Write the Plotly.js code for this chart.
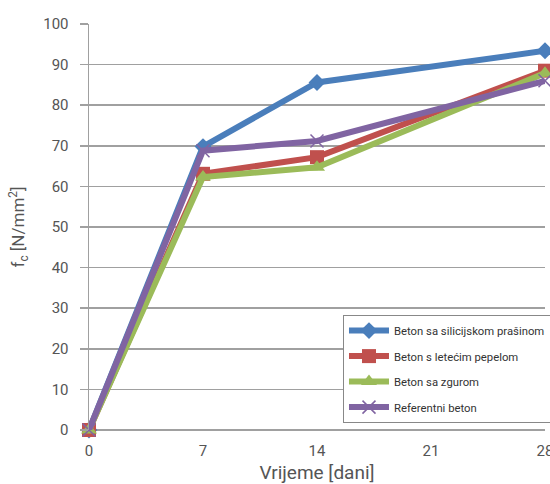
<!DOCTYPE html>
<html><head><meta charset="utf-8">
<script src="https://cdn.plot.ly/plotly-3.0.1.min.js"></script>
<style>html,body{margin:0;padding:0;background:#fff}#c{width:550px;height:484px}</style>
</head><body><div id="c"></div>
<script>
const days = [0, 7, 14, 28];
const seriesNames = ["Beton sa silicijskom prašinom", "Beton s letećim pepelom", "Beton sa zgurom", "Referentni beton"];
const silica = [0, 69.8, 85.6, 93.4];
const flyAsh = [0, 63.1, 67.2, 88.5];
const slag = [0, 62.3, 64.7, 87.9];
const reference = [0, 68.8, 71.2, 86.0];
const xTicks = [0, 7, 14, 21, 28];
const yTicks = [0, 10, 20, 30, 40, 50, 60, 70, 80, 90, 100];

const colors = ["#4A7EBB", "#C0504D", "#9BBB59", "#8064A2"];
const symbols = ["diamond", "square", "triangle-up", "x-thin"];
const sizes = [13, 14, 14, 13];
const data = [silica, flyAsh, slag, reference].map((ys, i) => ({
  x: days, y: ys, name: seriesNames[i], type: "scatter", mode: "lines+markers",
  legendgroup: "g" + i, cliponaxis: false,
  line: {color: colors[i], width: 6},
  marker: {symbol: symbols[i], size: sizes[i], color: colors[i],
           line: {color: colors[i], width: i === 3 ? 1.5 : 0}}
}));

const layout = {
  width: 550, height: 484,
  margin: {l: 89, r: 5, t: 24, b: 54, autoexpand: false},
  paper_bgcolor: "#fff", plot_bgcolor: "#fff",
  font: {family: "Roboto, 'Open Sans', sans-serif", color: "#444"},
  showlegend: true,
  legend: {x: 0.557, y: 0.283, xanchor: "left", yanchor: "top",
           bordercolor: "#888", borderwidth: 1, bgcolor: "#fff",
           font: {size: 11.3, color: "#333"}, tracegroupgap: 6.5, itemwidth: 40},
  xaxis: {range: [0, 28], tickvals: xTicks, ticktext: xTicks.map(String),
          showgrid: false, zeroline: false, showline: false, ticks: "",
          ticklabelstandoff: 10,
          tickfont: {size: 15, color: "#555"}, ticklabeloverflow: "allow",
          title: {text: "Vrijeme [dani]", font: {size: 19, color: "#555"}, standoff: 8}},
  yaxis: {range: [0, 100], tickvals: yTicks, showgrid: true, gridcolor: "#A0A0A0", gridwidth: 1.5,
          zeroline: true, zerolinecolor: "#A0A0A0", zerolinewidth: 1.5,
          showline: true, linecolor: "#A0A0A0", linewidth: 1.5,
          ticks: "outside", ticklen: 8, tickcolor: "#A0A0A0", tickwidth: 1.5,
          ticklabelstandoff: 8,
          tickfont: {size: 15, color: "#555"},
          title: {text: "f<sub>c</sub> [N/mm<sup>2</sup>]", font: {size: 17, color: "#555"}, standoff: 14}}
};
Plotly.newPlot("c", data, layout, {displayModeBar: false, staticPlot: true});
</script></body></html>
